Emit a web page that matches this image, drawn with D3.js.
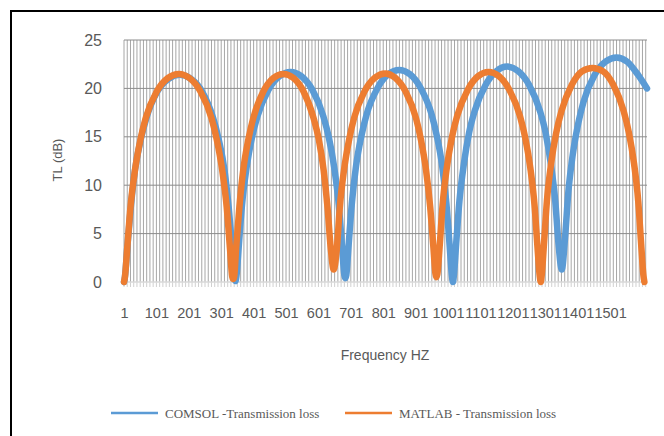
<!DOCTYPE html>
<html><head><meta charset="utf-8">
<script src="https://cdn.jsdelivr.net/npm/d3@7"></script>
<style>body{margin:0;background:#fff;overflow:hidden}</style>
</head><body><svg id="c" width="664" height="436"></svg>
<script>
// ---- data ----
const comsolFreq = [1,4,11,22,35,53,70,104,139,173,207,242,276,293,311,324,335,342,345,
  348,355,365,379,396,413,447,481,515,548,582,616,633,650,664,674,681,684,
  687,694,704,717,734,750,784,817,850,883,916,950,966,983,996,1006,1013,1016,
  1019,1026,1036,1050,1066,1083,1117,1150,1184,1218,1251,1285,1302,1318,1332,1342,1352,
  1362,1372,1386,1403,1419,1453,1487,1521,1554,1588,1615];
const comsolTL = [0,0.56,3.5,7.73,11.58,14.76,16.94,19.68,21.0,21.4,21.0,19.68,16.94,14.76,11.58,7.73,3.5,0.56,0.1,
  0.59,3.62,7.9,11.77,14.95,17.14,19.87,21.27,21.7,21.27,19.87,17.14,14.95,11.77,7.9,3.62,0.7,0.4,
  0.7,3.73,8.07,11.96,15.15,17.34,20.07,21.47,21.9,21.47,20.07,17.34,15.15,11.96,8.07,3.73,0.61,0,
  0.66,3.91,8.32,12.24,15.44,17.64,20.37,21.77,22.25,21.77,20.37,17.64,15.44,12.24,8.32,3.91,1.3,
  4.53,9.19,13.19,16.42,18.62,21.37,22.76,23.2,22.76,21.37,20.0];
const matlabFreq = [1,4,11,21,35,52,68,102,136,170,203,237,271,287,304,318,328,335,338,
  341,347,357,369,385,400,431,462,493,524,555,586,602,617,629,639,648,
  658,667,680,696,711,743,775,807,838,870,902,917,933,946,956,962,965,
  968,975,984,997,1013,1029,1062,1094,1126,1158,1190,1223,1239,1255,1268,1277,1284,1287,
  1290,1297,1306,1319,1335,1351,1383,1415,1447,1479,1511,1543,1559,1575,1588,1597,1604,1607];
const matlabTL = [0,0.56,3.5,7.73,11.58,14.76,16.94,19.68,21.07,21.5,21.07,19.68,16.94,14.76,11.58,7.73,3.5,0.56,0.3,
  0.56,3.5,7.73,11.58,14.76,16.94,19.68,21.07,21.5,21.07,19.68,16.94,14.76,11.58,7.73,3.5,1.3,
  3.5,7.73,11.58,14.76,16.94,19.68,21.1,21.55,21.1,19.68,16.94,14.76,11.58,7.73,3.5,0.9,0.5,
  0.8,3.62,7.9,11.77,14.95,17.14,19.87,21.27,21.7,21.27,19.87,17.14,14.95,11.77,7.9,3.62,0.59,0,
  0.66,3.91,8.32,12.24,15.44,17.64,20.37,21.77,22.1,21.77,20.37,17.64,15.44,12.24,8.32,3.91,0.66,0];
const xTickLabels = [1,101,201,301,401,501,601,701,801,901,1001,1101,1201,1301,1401,1501];
const yTickValues = [0,5,10,15,20,25];
const seriesNames = ["COMSOL -Transmission loss", "MATLAB - Transmission loss"];
const seriesColors = ["#5B9BD5", "#ED7D31"];
const freqDomain = [1, 1615];
const categoryTickStep = 10;

// ---- drawing ----
const svg = d3.select("#c");
const pLeft = 124, pRight = 647, pTop = 40, pBottom = 282;
const x = d3.scaleLinear().domain(freqDomain).range([pLeft, pRight]);
const y = d3.scaleLinear().domain([0, 25]).range([pBottom, pTop]);

// outer frame (only top/left visible in the reference)
svg.append("rect").attr("x", 11).attr("y", 11).attr("width", 700).attr("height", 500)
  .attr("fill", "none").attr("stroke", "#000").attr("stroke-width", 2);

// vertical category gridlines + tick marks
const gridTicks = d3.range(freqDomain[0], freqDomain[1] + 1, categoryTickStep);
svg.append("g").selectAll("line").data(gridTicks).join("line")
  .attr("x1", d => x(d)).attr("x2", d => x(d))
  .attr("y1", pTop).attr("y2", pBottom)
  .attr("stroke", "#a6a6a6").attr("stroke-width", 1);
svg.append("g").selectAll("line").data(gridTicks).join("line")
  .attr("x1", d => x(d)).attr("x2", d => x(d))
  .attr("y1", pBottom).attr("y2", pBottom + 5)
  .attr("stroke", "#d0d0d0").attr("stroke-width", 1);

// horizontal gridlines
svg.append("g").selectAll("line").data(yTickValues.filter(v => v > 0)).join("line")
  .attr("x1", pLeft).attr("x2", pRight)
  .attr("y1", d => y(d)).attr("y2", d => y(d))
  .attr("stroke", "#8c8c8c").attr("stroke-width", 1);
// category axis line
svg.append("line").attr("x1", pLeft).attr("x2", pRight).attr("y1", y(0)).attr("y2", y(0))
  .attr("stroke", "#d9d9d9").attr("stroke-width", 1.5);

// y axis labels
const yAxis = d3.axisLeft(y).tickValues(yTickValues).tickSize(0).tickPadding(22);
const gy = svg.append("g").attr("transform", `translate(${pLeft},0)`).call(yAxis);
gy.select(".domain").remove();
gy.selectAll("text").attr("font-family", "Liberation Sans, Arial, sans-serif")
  .attr("font-size", 16).attr("fill", "#595959");

// x axis labels
const xAxis = d3.axisBottom(x).tickValues(xTickLabels).tickSize(0).tickPadding(26).tickFormat(d3.format("d"));
const gx = svg.append("g").attr("transform", `translate(0,${pBottom})`).call(xAxis);
gx.select(".domain").remove();
gx.selectAll("text").attr("font-family", "Liberation Sans, Arial, sans-serif")
  .attr("font-size", 14.5).attr("fill", "#595959");

// axis titles
svg.append("text").attr("transform", `translate(62,160) rotate(-90)`)
  .attr("text-anchor", "middle").attr("font-family", "Liberation Sans, Arial, sans-serif")
  .attr("font-size", 13).attr("fill", "#595959").text("TL (dB)");
svg.append("text").attr("x", 385).attr("y", 360)
  .attr("text-anchor", "middle").attr("font-family", "Liberation Sans, Arial, sans-serif")
  .attr("font-size", 14).attr("fill", "#595959").text("Frequency HZ");

// series lines
const line = d3.line().x(d => x(d[0])).y(d => y(d[1])).curve(d3.curveMonotoneX);
const series = [
  d3.zip(comsolFreq, comsolTL),
  d3.zip(matlabFreq, matlabTL)
];
svg.append("g").selectAll("path").data(series).join("path")
  .attr("d", line).attr("fill", "none")
  .attr("stroke", (d, i) => seriesColors[i]).attr("stroke-width", 6.5)
  .attr("stroke-linejoin", "round").attr("stroke-linecap", "round");

// legend
const legendX = [111, 345];
const lg = svg.append("g").selectAll("g").data(seriesNames).join("g")
  .attr("transform", (d, i) => `translate(${legendX[i]},413)`);
lg.append("line").attr("x1", 0).attr("x2", 47).attr("y1", 0).attr("y2", 0)
  .attr("stroke", (d, i) => seriesColors[i]).attr("stroke-width", 2.5);
lg.append("text").attr("x", 54).attr("y", 4.5)
  .attr("font-family", "Liberation Serif, Times New Roman, serif")
  .attr("font-size", 13).attr("fill", "#595959").text(d => d);
</script></body></html>
